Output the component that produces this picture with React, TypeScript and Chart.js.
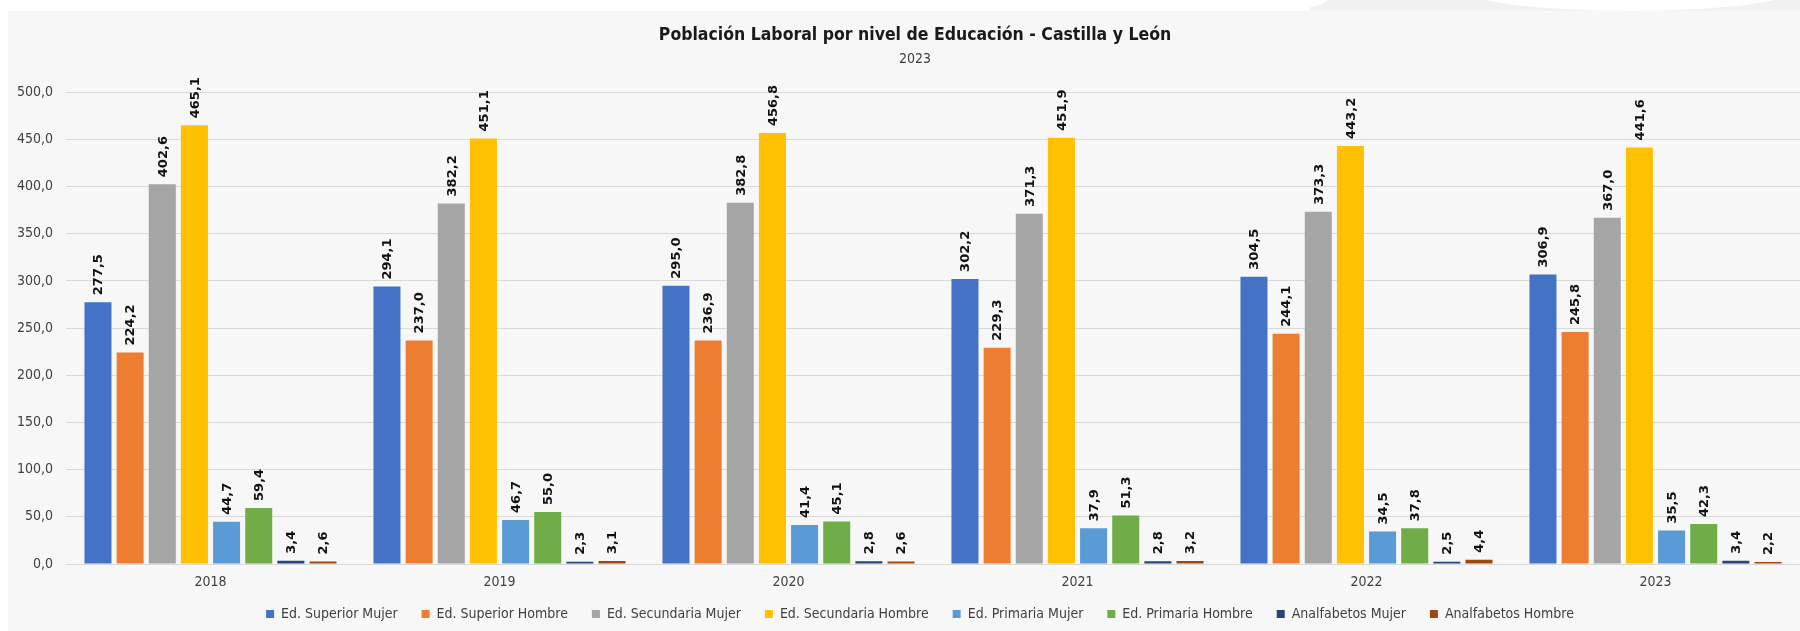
import React, { useEffect, useRef } from "react";
import { Chart, registerables } from "chart.js";

Chart.register(...registerables);

const years = ["2018", "2019", "2020", "2021", "2022", "2023"];

const seriesNames = [
  "Ed. Superior Mujer",
  "Ed. Superior Hombre",
  "Ed. Secundaria Mujer",
  "Ed. Secundaria Hombre",
  "Ed. Primaria Mujer",
  "Ed. Primaria Hombre",
  "Analfabetos Mujer",
  "Analfabetos Hombre",
];

const superiorMujer = [277.5, 294.1, 295.0, 302.2, 304.5, 306.9];
const superiorHombre = [224.2, 237.0, 236.9, 229.3, 244.1, 245.8];
const secundariaMujer = [402.6, 382.2, 382.8, 371.3, 373.3, 367.0];
const secundariaHombre = [465.1, 451.1, 456.8, 451.9, 443.2, 441.6];
const primariaMujer = [44.7, 46.7, 41.4, 37.9, 34.5, 35.5];
const primariaHombre = [59.4, 55.0, 45.1, 51.3, 37.8, 42.3];
const analfabetosMujer = [3.4, 2.3, 2.8, 2.8, 2.5, 3.4];
const analfabetosHombre = [2.6, 3.1, 2.6, 3.2, 4.4, 2.2];

const seriesValues = [
  superiorMujer,
  superiorHombre,
  secundariaMujer,
  secundariaHombre,
  primariaMujer,
  primariaHombre,
  analfabetosMujer,
  analfabetosHombre,
];

const seriesColors = [
  "#4472C4",
  "#ED7D31",
  "#A5A5A5",
  "#FFC000",
  "#5B9BD5",
  "#70AD47",
  "#264478",
  "#9E480E",
];

const titleText = "Población Laboral por nivel de Educación - Castilla y León";
const subtitleText = "2023";

const yTicksMin = 0;
const yTicksMax = 500;
const yTicksStep = 50;

const condensed = "'Liberation Sans Narrow', 'DejaVu Sans Condensed', 'Open Sans', sans-serif";

const fmt = (v: number) => v.toFixed(1).replace(".", ",");

const backgroundPlugin = {
  id: "bgPanel",
  afterLayout(chart: any) {
    // let the x tick labels draw below the shortened axis box
    const x = chart.scales.x;
    if (x) x.bottom = x.top + 32;
    // titles and legend sit a little right of the canvas centre
    chart.boxes.forEach((b: any) => {
      if (b.options && typeof b.options.text === "string" && b.position === "top") {
        b.left += 15;
        b.right += 15;
      }
    });
    if (chart.legend) {
      chart.legend.left += 20;
      chart.legend.right += 20;
    }
  },
  beforeDraw(chart: any) {
    const { ctx, width, height } = chart;
    ctx.save();
    ctx.fillStyle = "#ffffff";
    ctx.fillRect(0, 0, width, height);
    // light decorative shape at the top-right
    ctx.fillStyle = "#f1f1f1";
    ctx.fillRect(1310, 0, width - 1310, 11);
    ctx.fillStyle = "#ffffff";
    ctx.beginPath();
    ctx.ellipse(1630, -14, 175, 25, 0, 0, Math.PI * 2);
    ctx.fill();
    ctx.beginPath();
    ctx.ellipse(1300, -4, 30, 12, 0, 0, Math.PI * 2);
    ctx.fill();
    // panel
    ctx.fillStyle = "#f7f7f7";
    ctx.fillRect(8, 11, width - 8, height - 11);
    ctx.restore();
  },
};

const dataLabelPlugin = {
  id: "barLabels",
  afterDatasetsDraw(chart: any) {
    const { ctx } = chart;
    ctx.save();
    ctx.font = "bold 13px 'DejaVu Sans', sans-serif";
    ctx.fillStyle = "#111111";
    ctx.textAlign = "left";
    ctx.textBaseline = "middle";
    chart.data.datasets.forEach((ds: any, di: number) => {
      const meta = chart.getDatasetMeta(di);
      meta.data.forEach((bar: any, i: number) => {
        const v = ds.data[i];
        ctx.save();
        ctx.translate(bar.x + 1, bar.y - 7);
        ctx.rotate(-Math.PI / 2);
        ctx.fillText(fmt(v), 0, 0);
        ctx.restore();
      });
    });
    ctx.restore();
  },
};

export default function App() {
  const canvasRef = useRef<HTMLCanvasElement | null>(null);

  useEffect(() => {
    if (!canvasRef.current) return;
    const chart = new Chart(canvasRef.current, {
      type: "bar",
      data: {
        labels: years,
        datasets: seriesNames.map((name, i) => ({
          label: name,
          data: seriesValues[i],
          backgroundColor: seriesColors[i],
          borderWidth: 0,
          categoryPercentage: 0.89,
          barPercentage: 0.84,
        })),
      },
      options: {
        responsive: false,
        animation: false,
        layout: { padding: { top: 0, left: 0, right: 0, bottom: 0 } },
        plugins: {
          title: {
            display: true,
            text: titleText,
            color: "#1a1a1a",
            font: { family: condensed, size: 17.5, weight: "bold", lineHeight: 1.2 },
            padding: { top: 25, bottom: 3 },
          },
          subtitle: {
            display: true,
            text: subtitleText,
            color: "#404040",
            font: { family: condensed, size: 14, lineHeight: 1.2 },
            padding: { top: 2, bottom: 24.5 },
          },
          legend: {
            display: true,
            position: "bottom",
            labels: {
              boxWidth: 8,
              boxHeight: 8,
              padding: 24,
              color: "#404040",
              font: { family: condensed, size: 14 },
            },
          },
          tooltip: { enabled: false },
        },
        scales: {
          x: {
            grid: { display: false, drawTicks: false },
            border: { display: true, color: "#d9d9d9" },
            ticks: {
              color: "#404040",
              padding: 10,
              font: { family: condensed, size: 14 },
            },
            afterFit: (scale: any) => {
              scale.height = 19;
            },
          },
          y: {
            min: yTicksMin,
            max: yTicksMax,
            grid: { color: "#d9d9d9", drawTicks: false },
            border: { display: false },
            ticks: {
              stepSize: yTicksStep,
              color: "#404040",
              padding: 13,
              font: { family: condensed, size: 14 },
              callback: (v: any) => fmt(Number(v)),
            },
            afterFit: (scale: any) => {
              scale.width = 66;
            },
          },
        },
      },
      plugins: [backgroundPlugin, dataLabelPlugin],
    });
    return () => chart.destroy();
  }, []);

  return (
    <div style={{ position: "absolute", left: 0, top: 0, width: 1800, height: 631 }}>
      <canvas ref={canvasRef} width={1800} height={631} style={{ display: "block" }} />
    </div>
  );
}
